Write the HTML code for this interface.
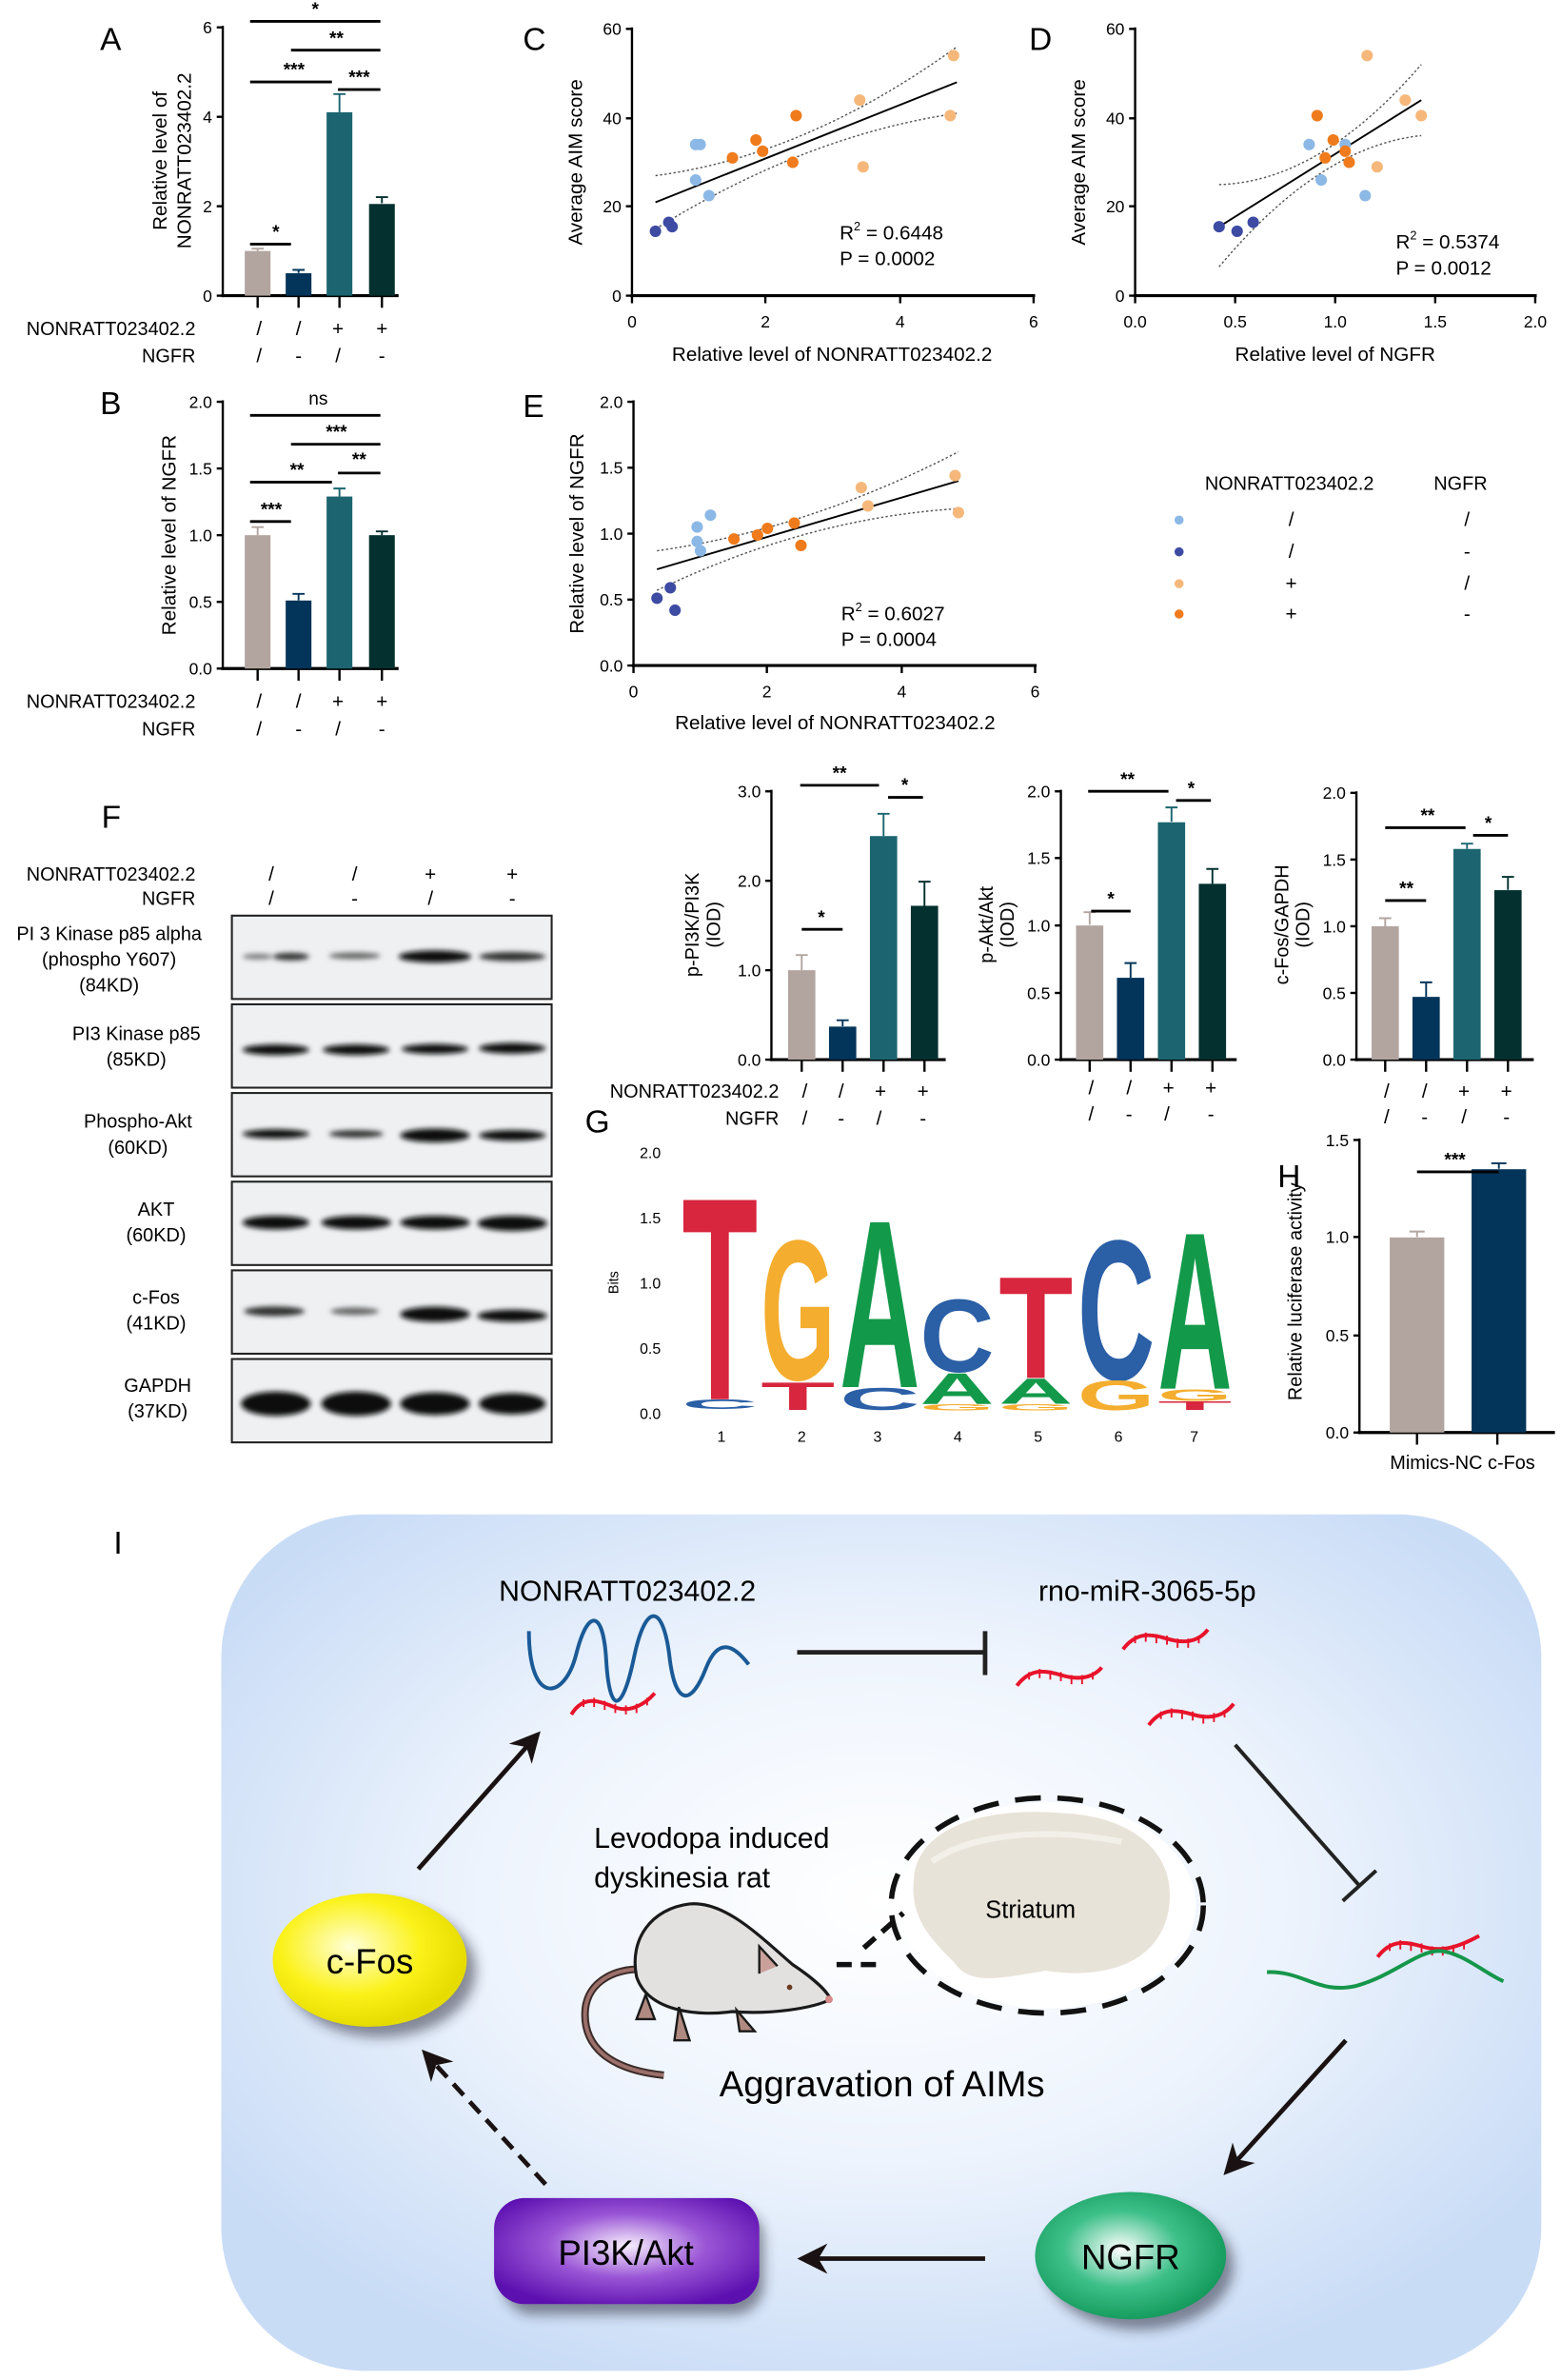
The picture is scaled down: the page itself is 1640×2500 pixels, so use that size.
<!DOCTYPE html>
<html><head><meta charset="utf-8"><style>
html,body{margin:0;padding:0;background:#fff;}
svg{display:block;}
</style></head><body>
<svg width="1640" height="2500" viewBox="0 0 1030 1570" xmlns="http://www.w3.org/2000/svg" font-family="Liberation Sans, Arial, sans-serif">
<defs>
<filter id="bl" x="-20%" y="-100%" width="140%" height="300%"><feGaussianBlur stdDeviation="1.6"/></filter>
<radialGradient id="bgI" cx="0.5" cy="0.45" r="0.6"><stop offset="0" stop-color="#ffffff"/><stop offset="0.5" stop-color="#eef4fd"/><stop offset="1" stop-color="#c9dcf6"/></radialGradient>
<radialGradient id="gY" cx="0.4" cy="0.4" r="0.6"><stop offset="0" stop-color="#ffffd8"/><stop offset="0.6" stop-color="#fbf21a"/><stop offset="1" stop-color="#e6dc00"/></radialGradient>
<radialGradient id="gG" cx="0.45" cy="0.45" r="0.6"><stop offset="0" stop-color="#ffffff"/><stop offset="0.5" stop-color="#3fc08a"/><stop offset="1" stop-color="#0f9656"/></radialGradient>
<radialGradient id="gP" cx="0.5" cy="0.45" r="0.6"><stop offset="0" stop-color="#f6eefc"/><stop offset="0.5" stop-color="#9a55d6"/><stop offset="1" stop-color="#5d10b0"/></radialGradient>
<filter id="sh" x="-30%" y="-30%" width="170%" height="170%"><feGaussianBlur stdDeviation="4"/></filter>
<marker id="ahb" viewBox="0 0 10 10" markerWidth="20" markerHeight="20" refX="8" refY="5" orient="auto" markerUnits="userSpaceOnUse"><path d="M0,0 L10,5 L0,10 L3,5 Z" fill="#1a1212"/></marker>
</defs>
<rect width="1030" height="1570" fill="#fff"/>

<!-- ================= Panel A ================= -->
<g>
<text x="66" y="33" font-size="21">A</text>
<g stroke="#000" stroke-width="1.5" fill="none">
<line x1="147" y1="17" x2="147" y2="196"/>
<line x1="146" y1="195" x2="263" y2="195" stroke-width="2"/>
<line x1="143" y1="18" x2="147" y2="18"/><line x1="143" y1="77" x2="147" y2="77"/><line x1="143" y1="136" x2="147" y2="136"/><line x1="143" y1="195" x2="147" y2="195"/>
<line x1="170" y1="195" x2="170" y2="203"/><line x1="197" y1="195" x2="197" y2="203"/><line x1="224" y1="195" x2="224" y2="203"/><line x1="252" y1="195" x2="252" y2="203"/>
</g>
<g font-size="11" text-anchor="end"><text x="140" y="22">6</text><text x="140" y="81">4</text><text x="140" y="140">2</text><text x="140" y="199">0</text></g>
<rect x="161.5" y="165.5" width="17" height="29.5" fill="#b2a59f"/>
<rect x="188.5" y="180.2" width="17" height="14.8" fill="#033459"/>
<rect x="215.5" y="74" width="17" height="121" fill="#1c6570"/>
<rect x="243.5" y="134.5" width="17" height="60.5" fill="#04302f"/>
<g stroke-width="1.2" fill="none">
<path d="M170 165.5V164M166 164H174" stroke="#b2a59f"/>
<path d="M197 180V178M193 178H201" stroke="#033459"/>
<path d="M224 74V62M220 62H228" stroke="#1c6570"/>
<path d="M252 134V130M248 130H256" stroke="#04302f"/>
</g>
<g stroke="#000" stroke-width="1.8">
<line x1="165" y1="14" x2="251" y2="14"/><line x1="192" y1="33" x2="251" y2="33"/>
<line x1="165" y1="54" x2="219" y2="54"/><line x1="223" y1="59" x2="251" y2="59"/>
<line x1="165" y1="161" x2="192" y2="161"/>
</g>
<g font-size="12" font-weight="bold" text-anchor="middle">
<text x="208" y="10">*</text><text x="222" y="29">**</text><text x="194" y="50">***</text><text x="237" y="55">***</text><text x="182" y="157">*</text>
</g>
<text transform="translate(110,106) rotate(-90)" font-size="13" text-anchor="middle">Relative level of</text>
<text transform="translate(126,106) rotate(-90)" font-size="13" text-anchor="middle">NONRATT023402.2</text>
<g font-size="12.5"><text x="129" y="221" text-anchor="end">NONRATT023402.2</text><text x="129" y="239" text-anchor="end">NGFR</text></g>
<g font-size="13" text-anchor="middle"><text x="171" y="221">/</text><text x="197" y="221">/</text><text x="223" y="221">+</text><text x="252" y="221">+</text>
<text x="171" y="239">/</text><text x="197" y="239">-</text><text x="223" y="239">/</text><text x="252" y="239">-</text></g>
</g>

<!-- ================= Panel B ================= -->
<g>
<text x="66" y="273" font-size="21">B</text>
<g stroke="#000" stroke-width="1.5" fill="none">
<line x1="147" y1="264" x2="147" y2="442"/>
<line x1="146" y1="441" x2="263" y2="441" stroke-width="2"/>
<line x1="143" y1="265" x2="147" y2="265"/><line x1="143" y1="309" x2="147" y2="309"/><line x1="143" y1="353" x2="147" y2="353"/><line x1="143" y1="397" x2="147" y2="397"/><line x1="143" y1="441" x2="147" y2="441"/>
<line x1="170" y1="441" x2="170" y2="449"/><line x1="197" y1="441" x2="197" y2="449"/><line x1="224" y1="441" x2="224" y2="449"/><line x1="252" y1="441" x2="252" y2="449"/>
</g>
<g font-size="11" text-anchor="end"><text x="140" y="269">2.0</text><text x="140" y="313">1.5</text><text x="140" y="357">1.0</text><text x="140" y="401">0.5</text><text x="140" y="445">0.0</text></g>
<rect x="161.5" y="353" width="17" height="88" fill="#b2a59f"/>
<rect x="188.5" y="396.1" width="17" height="44.9" fill="#033459"/>
<rect x="215.5" y="327.5" width="17" height="113.5" fill="#1c6570"/>
<rect x="243.5" y="353" width="17" height="88" fill="#04302f"/>
<g stroke-width="1.2" fill="none">
<path d="M170 353V347.7M166 347.7H174" stroke="#b2a59f"/>
<path d="M197 396V391.7M193 391.7H201" stroke="#033459"/>
<path d="M224 327.5V322.2M220 322.2H228" stroke="#1c6570"/>
<path d="M252 353V350.5M248 350.5H256" stroke="#04302f"/>
</g>
<g stroke="#000" stroke-width="1.8">
<line x1="165" y1="274" x2="251" y2="274"/><line x1="192" y1="293" x2="251" y2="293"/>
<line x1="165" y1="318" x2="219" y2="318"/><line x1="223" y1="312" x2="251" y2="312"/>
<line x1="165" y1="344" x2="192" y2="344"/>
</g>
<text x="210" y="267" font-size="12" text-anchor="middle">ns</text>
<g font-size="12" font-weight="bold" text-anchor="middle">
<text x="222" y="289">***</text><text x="196" y="314">**</text><text x="237" y="307">**</text><text x="179" y="340">***</text>
</g>
<text transform="translate(116,353) rotate(-90)" font-size="13" text-anchor="middle">Relative level of NGFR</text>
<g font-size="12.5"><text x="129" y="467" text-anchor="end">NONRATT023402.2</text><text x="129" y="485" text-anchor="end">NGFR</text></g>
<g font-size="13" text-anchor="middle"><text x="171" y="467">/</text><text x="197" y="467">/</text><text x="223" y="467">+</text><text x="252" y="467">+</text>
<text x="171" y="485">/</text><text x="197" y="485">-</text><text x="223" y="485">/</text><text x="252" y="485">-</text></g>
</g>

<!-- ================= Panel C ================= -->
<g>
<text x="345" y="33" font-size="21">C</text>
<g stroke="#000" stroke-width="1.5" fill="none">
<line x1="417" y1="18" x2="417" y2="196"/>
<line x1="416" y1="195" x2="683" y2="195" stroke-width="2"/>
<line x1="413" y1="19" x2="417" y2="19"/><line x1="413" y1="78" x2="417" y2="78"/><line x1="413" y1="136" x2="417" y2="136"/><line x1="413" y1="195" x2="417" y2="195"/>
<line x1="417" y1="195" x2="417" y2="200"/><line x1="505" y1="195" x2="505" y2="200"/><line x1="594" y1="195" x2="594" y2="200"/><line x1="682" y1="195" x2="682" y2="200"/>
</g>
<g font-size="11" text-anchor="end"><text x="410" y="23">60</text><text x="410" y="82">40</text><text x="410" y="140">20</text><text x="410" y="199">0</text></g>
<g font-size="11" text-anchor="middle"><text x="417" y="216">0</text><text x="505" y="216">2</text><text x="594" y="216">4</text><text x="682" y="216">6</text></g>
<text transform="translate(384,107) rotate(-90)" font-size="13" text-anchor="middle">Average AIM score</text>
<text x="549" y="238" font-size="13" text-anchor="middle">Relative level of NONRATT023402.2</text>
<line x1="432.5" y1="133.4" x2="631.4" y2="54.2" stroke="#000" stroke-width="1.2"/>
<path d="M432.5 115.8 Q532 102.7 631.4 30.8" stroke="#555" stroke-width="0.9" stroke-dasharray="1.5,1.5" fill="none"/>
<path d="M432.5 151 Q532 89.2 631.4 74.7" stroke="#555" stroke-width="0.9" stroke-dasharray="1.5,1.5" fill="none"/>
<g fill="#8cb8e6"><circle cx="459" cy="95.3" r="3.8"/><circle cx="462" cy="95.3" r="3.8"/><circle cx="459" cy="118.7" r="3.8"/><circle cx="467.8" cy="129" r="3.8"/></g>
<g fill="#3d4ba3"><circle cx="432.5" cy="152.5" r="3.8"/><circle cx="441.3" cy="146.6" r="3.8"/><circle cx="443.5" cy="149.5" r="3.8"/></g>
<g fill="#f5b87a"><circle cx="567.3" cy="66" r="3.8"/><circle cx="569.5" cy="110" r="3.8"/><circle cx="629.2" cy="36.6" r="3.8"/><circle cx="627" cy="76.2" r="3.8"/></g>
<g fill="#ef7b1c"><circle cx="483.3" cy="104.1" r="3.8"/><circle cx="498.8" cy="92.3" r="3.8"/><circle cx="503.2" cy="99.7" r="3.8"/><circle cx="525.3" cy="76.2" r="3.8"/><circle cx="523.1" cy="107" r="3.8"/></g>
<text x="554" y="158" font-size="13">R<tspan font-size="8" dy="-6">2</tspan><tspan dy="6"> = 0.6448</tspan></text>
<text x="554" y="175" font-size="13">P  = 0.0002</text>
</g>

<!-- ================= Panel D ================= -->
<g>
<text x="679" y="33" font-size="21">D</text>
<g stroke="#000" stroke-width="1.5" fill="none">
<line x1="749" y1="18" x2="749" y2="196"/>
<line x1="748" y1="195" x2="1014" y2="195" stroke-width="2"/>
<line x1="745" y1="19" x2="749" y2="19"/><line x1="745" y1="78" x2="749" y2="78"/><line x1="745" y1="136" x2="749" y2="136"/><line x1="745" y1="195" x2="749" y2="195"/>
<line x1="749" y1="195" x2="749" y2="200"/><line x1="815" y1="195" x2="815" y2="200"/><line x1="881" y1="195" x2="881" y2="200"/><line x1="947" y1="195" x2="947" y2="200"/><line x1="1013" y1="195" x2="1013" y2="200"/>
</g>
<g font-size="11" text-anchor="end"><text x="742" y="23">60</text><text x="742" y="82">40</text><text x="742" y="140">20</text><text x="742" y="199">0</text></g>
<g font-size="11" text-anchor="middle"><text x="749" y="216">0.0</text><text x="815" y="216">0.5</text><text x="881" y="216">1.0</text><text x="947" y="216">1.5</text><text x="1013" y="216">2.0</text></g>
<text transform="translate(716,107) rotate(-90)" font-size="13" text-anchor="middle">Average AIM score</text>
<text x="881" y="238" font-size="13" text-anchor="middle">Relative level of NGFR</text>
<line x1="804.4" y1="149.5" x2="937.8" y2="66" stroke="#000" stroke-width="1.2"/>
<path d="M804.4 121.7 Q871 119.9 937.8 42.5" stroke="#555" stroke-width="0.9" stroke-dasharray="1.5,1.5" fill="none"/>
<path d="M804.4 176 Q871 96.3 937.8 89.4" stroke="#555" stroke-width="0.9" stroke-dasharray="1.5,1.5" fill="none"/>
<g fill="#8cb8e6"><circle cx="863.8" cy="95.3" r="3.8"/><circle cx="887.6" cy="95.3" r="3.8"/><circle cx="871.8" cy="118.7" r="3.8"/><circle cx="900.8" cy="129" r="3.8"/></g>
<g fill="#3d4ba3"><circle cx="804.4" cy="149.5" r="3.8"/><circle cx="816.3" cy="152.5" r="3.8"/><circle cx="826.9" cy="146.6" r="3.8"/></g>
<g fill="#f5b87a"><circle cx="902.1" cy="36.6" r="3.8"/><circle cx="927.2" cy="66" r="3.8"/><circle cx="937.8" cy="76.2" r="3.8"/><circle cx="908.7" cy="110" r="3.8"/></g>
<g fill="#ef7b1c"><circle cx="869.1" cy="76.2" r="3.8"/><circle cx="879.7" cy="92.3" r="3.8"/><circle cx="874.4" cy="104.1" r="3.8"/><circle cx="887.6" cy="99.7" r="3.8"/><circle cx="890.2" cy="107" r="3.8"/></g>
<text x="921" y="164" font-size="13">R<tspan font-size="8" dy="-6">2</tspan><tspan dy="6"> = 0.5374</tspan></text>
<text x="921" y="181" font-size="13">P  = 0.0012</text>
</g>

<!-- ================= Panel E ================= -->
<g>
<text x="345" y="275" font-size="21">E</text>
<g stroke="#000" stroke-width="1.5" fill="none">
<line x1="418" y1="264" x2="418" y2="440"/>
<line x1="417" y1="439" x2="684" y2="439" stroke-width="2"/>
<line x1="414" y1="265" x2="418" y2="265"/><line x1="414" y1="308.5" x2="418" y2="308.5"/><line x1="414" y1="352" x2="418" y2="352"/><line x1="414" y1="395.5" x2="418" y2="395.5"/><line x1="414" y1="439" x2="418" y2="439"/>
<line x1="418" y1="439" x2="418" y2="444"/><line x1="506" y1="439" x2="506" y2="444"/><line x1="595" y1="439" x2="595" y2="444"/><line x1="683" y1="439" x2="683" y2="444"/>
</g>
<g font-size="11" text-anchor="end"><text x="411" y="269">2.0</text><text x="411" y="312.5">1.5</text><text x="411" y="356">1.0</text><text x="411" y="399.5">0.5</text><text x="411" y="443">0.0</text></g>
<g font-size="11" text-anchor="middle"><text x="418" y="460">0</text><text x="506" y="460">2</text><text x="595" y="460">4</text><text x="683" y="460">6</text></g>
<text transform="translate(385,352) rotate(-90)" font-size="13" text-anchor="middle">Relative level of NGFR</text>
<text x="551" y="481" font-size="13" text-anchor="middle">Relative level of NONRATT023402.2</text>
<line x1="433.5" y1="375.5" x2="632.4" y2="317.2" stroke="#000" stroke-width="1.2"/>
<path d="M433.5 363.3 Q533 349.3 632.4 298" stroke="#555" stroke-width="0.9" stroke-dasharray="1.5,1.5" fill="none"/>
<path d="M433.5 389.4 Q533 341.5 632.4 335.5" stroke="#555" stroke-width="0.9" stroke-dasharray="1.5,1.5" fill="none"/>
<g fill="#8cb8e6"><circle cx="460" cy="347.6" r="3.8"/><circle cx="468.8" cy="339.8" r="3.8"/><circle cx="460" cy="357.2" r="3.8"/><circle cx="462.2" cy="363.3" r="3.8"/></g>
<g fill="#3d4ba3"><circle cx="433.5" cy="394.6" r="3.8"/><circle cx="442.3" cy="387.7" r="3.8"/><circle cx="445.4" cy="402.5" r="3.8"/></g>
<g fill="#f5b87a"><circle cx="568.3" cy="321.6" r="3.8"/><circle cx="572.7" cy="333.7" r="3.8"/><circle cx="630.2" cy="313.7" r="3.8"/><circle cx="632.4" cy="338.1" r="3.8"/></g>
<g fill="#ef7b1c"><circle cx="484.3" cy="355.5" r="3.8"/><circle cx="499.8" cy="352.9" r="3.8"/><circle cx="506.4" cy="348.5" r="3.8"/><circle cx="524.1" cy="345" r="3.8"/><circle cx="528.5" cy="359.8" r="3.8"/></g>
<text x="555" y="409" font-size="13">R<tspan font-size="8" dy="-6">2</tspan><tspan dy="6"> = 0.6027</tspan></text>
<text x="555" y="426" font-size="13">P  = 0.0004</text>
</g>

<!-- Legend -->
<g font-size="12.5">
<text x="795" y="323">NONRATT023402.2</text><text x="946" y="323">NGFR</text>
<circle cx="778" cy="343" r="3" fill="#8cb8e6"/><circle cx="778" cy="364" r="3" fill="#3d4ba3"/><circle cx="778" cy="385" r="3" fill="#f5b87a"/><circle cx="778" cy="405" r="3" fill="#ef7b1c"/>
<g text-anchor="middle" font-size="13"><text x="852" y="347">/</text><text x="852" y="368">/</text><text x="852" y="389">+</text><text x="852" y="409">+</text>
<text x="968" y="347">/</text><text x="968" y="368">-</text><text x="968" y="389">/</text><text x="968" y="409">-</text></g>
</g>

<!-- ================= Panel F (blots) ================= -->
<g>
<text x="67" y="546" font-size="21">F</text>
<g font-size="12.5"><text x="129" y="581" text-anchor="end">NONRATT023402.2</text><text x="129" y="597" text-anchor="end">NGFR</text></g>
<g font-size="13" text-anchor="middle"><text x="179" y="581">/</text><text x="234" y="581">/</text><text x="284" y="581">+</text><text x="338" y="581">+</text>
<text x="179" y="597">/</text><text x="234" y="597">-</text><text x="284" y="597">/</text><text x="338" y="597">-</text></g>
<g font-size="12.5" text-anchor="middle">
<text x="72" y="620">PI 3 Kinase p85 alpha</text><text x="72" y="637">(phospho Y607)</text><text x="72" y="654">(84KD)</text>
<text x="90" y="686">PI3 Kinase p85</text><text x="90" y="703">(85KD)</text>
<text x="91" y="744">Phospho-Akt</text><text x="91" y="761">(60KD)</text>
<text x="103" y="802">AKT</text><text x="103" y="819">(60KD)</text>
<text x="103" y="860">c-Fos</text><text x="103" y="877">(41KD)</text>
<text x="104" y="918">GAPDH</text><text x="104" y="935">(37KD)</text>
</g>
<g fill="#eef0f1" stroke="#222" stroke-width="1.3">
<rect x="153" y="604" width="211" height="55"/><rect x="153" y="662.5" width="211" height="55"/><rect x="153" y="721" width="211" height="55"/><rect x="153" y="779.5" width="211" height="55"/><rect x="153" y="838" width="211" height="55"/><rect x="153" y="896.5" width="211" height="55"/>
</g>
<g filter="url(#bl)" fill="#111">
<ellipse cx="170" cy="631" rx="10" ry="1.8" fill="#777"/><ellipse cx="192" cy="631" rx="12" ry="2.5" fill="#333"/><ellipse cx="234" cy="630.5" rx="17" ry="2.2" fill="#666"/><ellipse cx="287" cy="631" rx="24" ry="4" fill="#111"/><ellipse cx="338" cy="631" rx="22" ry="3" fill="#333"/>
<ellipse cx="182" cy="692.5" rx="22" ry="3.5"/><ellipse cx="235" cy="692.5" rx="22" ry="3.5"/><ellipse cx="287" cy="692" rx="22" ry="3.3"/><ellipse cx="338" cy="691.5" rx="22" ry="3.5"/>
<ellipse cx="182" cy="748" rx="22" ry="3"/><ellipse cx="235" cy="748" rx="18" ry="2.5" fill="#333"/><ellipse cx="287" cy="749" rx="23" ry="4.5"/><ellipse cx="338" cy="749" rx="22" ry="3.5"/>
<ellipse cx="182" cy="806.5" rx="22" ry="4.5"/><ellipse cx="235" cy="806.5" rx="23" ry="4.5"/><ellipse cx="287" cy="806.5" rx="23" ry="4.5"/><ellipse cx="338" cy="807" rx="23" ry="5"/>
<ellipse cx="181" cy="865" rx="20" ry="3.2" fill="#333"/><ellipse cx="234" cy="865" rx="16" ry="2.5" fill="#666"/><ellipse cx="287" cy="867" rx="23" ry="5"/><ellipse cx="338" cy="868" rx="23" ry="4"/>
<ellipse cx="182" cy="926" rx="23" ry="8"/><ellipse cx="235" cy="926" rx="23" ry="8"/><ellipse cx="287" cy="926" rx="23" ry="7.5"/><ellipse cx="338" cy="926" rx="22" ry="7"/>
</g>
</g>

<!-- p-PI3K/PI3K -->
<g>
<g stroke="#000" stroke-width="1.5" fill="none">
<line x1="509" y1="521" x2="509" y2="700"/>
<line x1="508" y1="699" x2="624" y2="699" stroke-width="2"/>
<line x1="505" y1="522" x2="509" y2="522"/><line x1="505" y1="581" x2="509" y2="581"/><line x1="505" y1="640" x2="509" y2="640"/><line x1="505" y1="699" x2="509" y2="699"/>
<line x1="529" y1="699" x2="529" y2="707"/><line x1="556" y1="699" x2="556" y2="707"/><line x1="583" y1="699" x2="583" y2="707"/><line x1="610" y1="699" x2="610" y2="707"/>
</g>
<g font-size="11" text-anchor="end"><text x="502" y="526">3.0</text><text x="502" y="585">2.0</text><text x="502" y="644">1.0</text><text x="502" y="703">0.0</text></g>
<rect x="520" y="640" width="18" height="59" fill="#b2a59f"/><rect x="547" y="677.2" width="18" height="21.8" fill="#033459"/><rect x="574" y="551.5" width="18" height="147.5" fill="#1c6570"/><rect x="601" y="597.5" width="18" height="101.5" fill="#04302f"/>
<g stroke-width="1.2" fill="none">
<path d="M529 640V630M525 630H533" stroke="#b2a59f"/><path d="M556 677V673M552 673H560" stroke="#033459"/><path d="M583 551.5V536.8M579 536.8H587" stroke="#1c6570"/><path d="M610 597.5V581.6M606 581.6H614" stroke="#04302f"/>
</g>
<g stroke="#000" stroke-width="1.8"><line x1="528" y1="518" x2="580" y2="518"/><line x1="586" y1="526" x2="609" y2="526"/><line x1="529" y1="613" x2="556" y2="613"/></g>
<g font-size="12" font-weight="bold" text-anchor="middle"><text x="554" y="514">**</text><text x="597" y="522">*</text><text x="542" y="609">*</text></g>
<text transform="translate(461,610) rotate(-90)" font-size="12.5" text-anchor="middle">p-PI3K/PI3K</text>
<text transform="translate(475,610) rotate(-90)" font-size="12.5" text-anchor="middle">(IOD)</text>
<g font-size="12.5"><text x="514" y="724" text-anchor="end">NONRATT023402.2</text><text x="514" y="742" text-anchor="end">NGFR</text></g>
<g font-size="13" text-anchor="middle"><text x="531" y="724">/</text><text x="555" y="724">/</text><text x="581" y="724">+</text><text x="609" y="724">+</text>
<text x="531" y="742">/</text><text x="555" y="742">-</text><text x="580" y="742">/</text><text x="609" y="742">-</text></g>
</g>

<!-- p-Akt/Akt -->
<g>
<g stroke="#000" stroke-width="1.5" fill="none">
<line x1="700" y1="521" x2="700" y2="700"/>
<line x1="699" y1="699" x2="816" y2="699" stroke-width="2"/>
<line x1="696" y1="522" x2="700" y2="522"/><line x1="696" y1="566" x2="700" y2="566"/><line x1="696" y1="610.5" x2="700" y2="610.5"/><line x1="696" y1="655" x2="700" y2="655"/><line x1="696" y1="699" x2="700" y2="699"/>
<line x1="719" y1="699" x2="719" y2="707"/><line x1="746" y1="699" x2="746" y2="707"/><line x1="773" y1="699" x2="773" y2="707"/><line x1="800" y1="699" x2="800" y2="707"/>
</g>
<g font-size="11" text-anchor="end"><text x="693" y="526">2.0</text><text x="693" y="570">1.5</text><text x="693" y="614.5">1.0</text><text x="693" y="659">0.5</text><text x="693" y="703">0.0</text></g>
<rect x="710" y="610.5" width="18" height="88.5" fill="#b2a59f"/><rect x="737" y="645" width="18" height="54" fill="#033459"/><rect x="764" y="542.4" width="18" height="156.6" fill="#1c6570"/><rect x="791" y="583" width="18" height="116" fill="#04302f"/>
<g stroke-width="1.2" fill="none">
<path d="M719 610V601.7M715 601.7H723" stroke="#b2a59f"/><path d="M746 645V635.3M742 635.3H750" stroke="#033459"/><path d="M773 542V532.6M769 532.6H777" stroke="#1c6570"/><path d="M800 583V573.2M796 573.2H804" stroke="#04302f"/>
</g>
<g stroke="#000" stroke-width="1.8"><line x1="718" y1="522" x2="771" y2="522"/><line x1="776" y1="528" x2="799" y2="528"/><line x1="720" y1="601" x2="746" y2="601"/></g>
<g font-size="12" font-weight="bold" text-anchor="middle"><text x="744" y="518">**</text><text x="786" y="524">*</text><text x="733" y="597">*</text></g>
<text transform="translate(655,610) rotate(-90)" font-size="12.5" text-anchor="middle">p-Akt/Akt</text>
<text transform="translate(669,610) rotate(-90)" font-size="12.5" text-anchor="middle">(IOD)</text>
<g font-size="13" text-anchor="middle"><text x="720" y="722">/</text><text x="745" y="722">/</text><text x="771" y="722">+</text><text x="799" y="722">+</text>
<text x="720" y="739">/</text><text x="745" y="739">-</text><text x="770" y="739">/</text><text x="799" y="739">-</text></g>
</g>

<!-- c-Fos/GAPDH -->
<g>
<g stroke="#000" stroke-width="1.5" fill="none">
<line x1="895" y1="522" x2="895" y2="700"/>
<line x1="894" y1="699" x2="1012" y2="699" stroke-width="2"/>
<line x1="891" y1="523" x2="895" y2="523"/><line x1="891" y1="567" x2="895" y2="567"/><line x1="891" y1="611" x2="895" y2="611"/><line x1="891" y1="655" x2="895" y2="655"/><line x1="891" y1="699" x2="895" y2="699"/>
<line x1="914" y1="699" x2="914" y2="707"/><line x1="941" y1="699" x2="941" y2="707"/><line x1="968" y1="699" x2="968" y2="707"/><line x1="995" y1="699" x2="995" y2="707"/>
</g>
<g font-size="11" text-anchor="end"><text x="888" y="527">2.0</text><text x="888" y="571">1.5</text><text x="888" y="615">1.0</text><text x="888" y="659">0.5</text><text x="888" y="703">0.0</text></g>
<rect x="905" y="611" width="18" height="88" fill="#b2a59f"/><rect x="932" y="657.6" width="18" height="41.4" fill="#033459"/><rect x="959" y="560" width="18" height="139" fill="#1c6570"/><rect x="986" y="587.2" width="18" height="111.8" fill="#04302f"/>
<g stroke-width="1.2" fill="none">
<path d="M914 611V605.7M910 605.7H918" stroke="#b2a59f"/><path d="M941 657.6V648M937 648H945" stroke="#033459"/><path d="M968 560V556.5M964 556.5H972" stroke="#1c6570"/><path d="M995 587V578.4M991 578.4H999" stroke="#04302f"/>
</g>
<g stroke="#000" stroke-width="1.8"><line x1="914" y1="546" x2="967" y2="546"/><line x1="972" y1="551" x2="995" y2="551"/><line x1="914" y1="594" x2="941" y2="594"/></g>
<g font-size="12" font-weight="bold" text-anchor="middle"><text x="942" y="542">**</text><text x="982" y="547">*</text><text x="928" y="590">**</text></g>
<text transform="translate(850,610) rotate(-90)" font-size="12.5" text-anchor="middle">c-Fos/GAPDH</text>
<text transform="translate(864,610) rotate(-90)" font-size="12.5" text-anchor="middle">(IOD)</text>
<g font-size="13" text-anchor="middle"><text x="915" y="724">/</text><text x="940" y="724">/</text><text x="966" y="724">+</text><text x="994" y="724">+</text>
<text x="915" y="741">/</text><text x="940" y="741">-</text><text x="966" y="741">/</text><text x="994" y="741">-</text></g>
</g>

<!-- ================= Panel G ================= -->
<g>
<text x="386" y="747" font-size="21">G</text>
<g font-size="10" text-anchor="end"><text x="436" y="764">2.0</text><text x="436" y="807">1.5</text><text x="436" y="850">1.0</text><text x="436" y="893">0.5</text><text x="436" y="936">0.0</text></g>
<text transform="translate(408,846) rotate(-90)" font-size="9" text-anchor="middle">Bits</text>
<g font-weight="bold">
<text x="450" y="923" font-size="191" textLength="50" lengthAdjust="spacingAndGlyphs" fill="#d7263d">T</text>
<text x="450" y="929.5" font-size="9" textLength="50" lengthAdjust="spacingAndGlyphs" fill="#2b5fa6">C</text>
<text x="502" y="910" font-size="132" textLength="49" lengthAdjust="spacingAndGlyphs" fill="#f4ad2e">G</text>
<text x="502" y="930" font-size="26" textLength="49" lengthAdjust="spacingAndGlyphs" fill="#d7263d">T</text>
<text x="554" y="915" font-size="158" textLength="53" lengthAdjust="spacingAndGlyphs" fill="#13994a">A</text>
<text x="554" y="930" font-size="21" textLength="53" lengthAdjust="spacingAndGlyphs" fill="#2b5fa6">C</text>
<text x="607" y="905" font-size="69" textLength="49" lengthAdjust="spacingAndGlyphs" fill="#2b5fa6">C</text>
<text x="607" y="926" font-size="29" textLength="49" lengthAdjust="spacingAndGlyphs" fill="#13994a">A</text>
<text x="607" y="930.5" font-size="6" textLength="49" lengthAdjust="spacingAndGlyphs" fill="#f4ad2e">G</text>
<text x="659" y="909" font-size="96" textLength="49" lengthAdjust="spacingAndGlyphs" fill="#d7263d">T</text>
<text x="659" y="926" font-size="24" textLength="49" lengthAdjust="spacingAndGlyphs" fill="#13994a">A</text>
<text x="659" y="930.5" font-size="6" textLength="49" lengthAdjust="spacingAndGlyphs" fill="#f4ad2e">G</text>
<text x="711" y="910" font-size="132" textLength="51" lengthAdjust="spacingAndGlyphs" fill="#2b5fa6">C</text>
<text x="711" y="930" font-size="28" textLength="51" lengthAdjust="spacingAndGlyphs" fill="#f4ad2e">G</text>
<text x="764" y="916" font-size="148" textLength="49" lengthAdjust="spacingAndGlyphs" fill="#13994a">A</text>
<text x="764" y="924" font-size="11" textLength="49" lengthAdjust="spacingAndGlyphs" fill="#f4ad2e">G</text>
<text x="764" y="930" font-size="8" textLength="49" lengthAdjust="spacingAndGlyphs" fill="#d7263d">T</text>
</g>
<g font-size="10" text-anchor="middle"><text x="476" y="951">1</text><text x="529" y="951">2</text><text x="579" y="951">3</text><text x="632" y="951">4</text><text x="685" y="951">5</text><text x="738" y="951">6</text><text x="788" y="951">7</text></g>
</g>

<!-- ================= Panel H ================= -->
<g>
<text x="843" y="783" font-size="21">H</text>
<g stroke="#000" stroke-width="1.5" fill="none">
<line x1="897" y1="751" x2="897" y2="946"/>
<line x1="896" y1="945" x2="1026" y2="945" stroke-width="2"/>
<line x1="893" y1="752" x2="897" y2="752"/><line x1="893" y1="816" x2="897" y2="816"/><line x1="893" y1="881" x2="897" y2="881"/><line x1="893" y1="945" x2="897" y2="945"/>
<line x1="935" y1="945" x2="935" y2="953"/><line x1="988" y1="945" x2="988" y2="953"/>
</g>
<g font-size="11" text-anchor="end"><text x="890" y="756">1.5</text><text x="890" y="820">1.0</text><text x="890" y="885">0.5</text><text x="890" y="949">0.0</text></g>
<rect x="917" y="816.3" width="36" height="128.7" fill="#b2a59f"/><rect x="971" y="771.3" width="36" height="173.7" fill="#033459"/>
<g stroke-width="1.2" fill="none"><path d="M935 816V812.4M930 812.4H940" stroke="#b2a59f"/><path d="M989 771V767.4M984 767.4H994" stroke="#033459"/></g>
<line x1="935" y1="773" x2="989" y2="773" stroke="#000" stroke-width="1.8"/>
<text x="960" y="769" font-size="12" font-weight="bold" text-anchor="middle">***</text>
<text transform="translate(859,852) rotate(-90)" font-size="12.5" text-anchor="middle">Relative luciferase activity</text>
<text x="965" y="969" font-size="12.5" text-anchor="middle">Mimics-NC c-Fos</text>
</g>

<!-- ================= Panel I ================= -->
<g>
<text x="75" y="1025" font-size="21">I</text>
<rect x="146" y="999" width="871" height="565" rx="95" ry="95" fill="url(#bgI)"/>
<text x="414" y="1056" font-size="19" text-anchor="middle">NONRATT023402.2</text>
<text x="757" y="1056" font-size="19" text-anchor="middle">rno-miR-3065-5p</text>
<path d="M349 1076 C349 1125 372 1122 380 1092 C388 1060 398 1062 400 1095 C402 1130 410 1132 418 1095 C426 1055 438 1058 442 1095 C446 1125 456 1126 466 1100 C474 1080 484 1085 494 1098" stroke="#1a5a96" stroke-width="2.5" fill="none"/>
<g stroke="#e8132a" stroke-width="2.5" fill="none">
<path d="M377 1131 C385 1118 395 1122 405 1126 C415 1130 425 1125 432 1117"/>
<path d="M671 1112 C680 1100 690 1102 700 1105 C710 1108 720 1108 727 1100"/>
<path d="M741 1088 C750 1076 760 1078 770 1081 C780 1084 790 1084 797 1075"/>
<path d="M758 1138 C767 1126 777 1128 787 1131 C797 1134 807 1133 814 1124"/>
<path d="M909 1291 C918 1279 928 1281 938 1284 C948 1287 958 1287 976 1277"/>
</g>
<g stroke="#e8132a" stroke-width="1.2">
<path d="M385 1121v5M392 1120v6M399 1122v6M406 1124v6M413 1125v6M420 1124v6M427 1120v5"/>
<path d="M679 1103v5M686 1101v6M693 1102v6M700 1103v6M707 1105v6M714 1105v6M721 1103v5"/>
<path d="M749 1079v5M756 1077v6M763 1078v6M770 1079v6M777 1081v6M784 1081v6M791 1079v5"/>
<path d="M766 1129v5M773 1127v6M780 1128v6M787 1129v6M794 1131v6M801 1130v6M808 1128v5"/>
<path d="M917 1282v5M924 1280v6M931 1281v6M938 1282v6M945 1284v6M952 1284v6M959 1283v5M966 1281v5"/>
</g>
<path d="M836 1301 C860 1300 870 1316 895 1310 C920 1303 935 1287 950 1287 C965 1288 980 1302 992 1307" stroke="#16964a" stroke-width="2.5" fill="none"/>
<line x1="526" y1="1090" x2="650" y2="1090" stroke="#222" stroke-width="3"/>
<line x1="650" y1="1076" x2="650" y2="1105" stroke="#222" stroke-width="3"/>
<line x1="815" y1="1151" x2="897" y2="1244" stroke="#222" stroke-width="2.5"/>
<line x1="886" y1="1254" x2="908" y2="1234" stroke="#222" stroke-width="2.5"/>
<line x1="888" y1="1346" x2="810" y2="1432" stroke="#1a1212" stroke-width="3" marker-end="url(#ahb)"/>
<line x1="650" y1="1490" x2="530" y2="1490" stroke="#1a1212" stroke-width="3" marker-end="url(#ahb)"/>
<line x1="360" y1="1441" x2="281" y2="1355" stroke="#1a1212" stroke-width="3" stroke-dasharray="10,6" marker-end="url(#ahb)"/>
<line x1="276" y1="1233" x2="354" y2="1145" stroke="#1a1212" stroke-width="3" marker-end="url(#ahb)"/>
<ellipse cx="752" cy="1495" rx="62" ry="42" fill="#223" opacity="0.5" filter="url(#sh)"/>
<ellipse cx="746" cy="1488" rx="63" ry="42" fill="url(#gG)"/>
<text x="746" y="1497" font-size="23" text-anchor="middle">NGFR</text>
<rect x="332" y="1457" width="172" height="70" rx="20" fill="#223" opacity="0.5" filter="url(#sh)"/>
<rect x="326" y="1450" width="175" height="70" rx="20" fill="url(#gP)"/>
<text x="413" y="1494" font-size="23" text-anchor="middle">PI3K/Akt</text>
<ellipse cx="251" cy="1300" rx="63" ry="44" fill="#223" opacity="0.5" filter="url(#sh)"/>
<ellipse cx="244" cy="1293" rx="64" ry="44" fill="url(#gY)"/>
<text x="244" y="1302" font-size="23" text-anchor="middle">c-Fos</text>
<ellipse cx="691" cy="1257" rx="98" ry="68" fill="#ffffff"/>
<path d="M603 1240 C605 1205 650 1192 700 1196 C750 1198 780 1225 770 1265 C760 1300 720 1305 690 1300 C660 1305 640 1310 630 1295 C615 1280 600 1265 603 1240 Z" fill="#e8e3d8"/>
<path d="M615 1228 C640 1210 690 1205 740 1215" stroke="#f3f0ea" stroke-width="4" fill="none"/>
<ellipse cx="691" cy="1257" rx="103" ry="71" fill="none" stroke="#111" stroke-width="3.5" stroke-dasharray="17,11"/>
<text x="680" y="1265" font-size="16" text-anchor="middle">Striatum</text>
<line x1="552" y1="1296" x2="580" y2="1296" stroke="#111" stroke-width="3.5" stroke-dasharray="10,6"/>
<line x1="570" y1="1285" x2="596" y2="1262" stroke="#111" stroke-width="3.5" stroke-dasharray="10,6"/>
<!-- rat -->
<g transform="translate(8,14)">
<path d="M415 1285 C395 1285 378 1295 378 1315 C378 1340 400 1352 430 1355" stroke="#3a2a28" stroke-width="5" fill="none"/>
<path d="M415 1285 C395 1285 378 1295 378 1315 C378 1340 400 1352 430 1355" stroke="#9c706a" stroke-width="2.5" fill="none"/>
<path d="M412 1290 C407 1265 422 1245 447 1242 C470 1240 492 1262 515 1282 C530 1292 538 1300 540 1305 C528 1311 500 1315 475 1313 C455 1316 420 1314 412 1290 Z" fill="#e3e1e0" stroke="#1a1a1a" stroke-width="2"/>
<path d="M418 1302 l-6 16 l12 0 Z" stroke="#1a1a1a" stroke-width="1.5" fill="#b08a80"/>
<path d="M440 1310 l-3 22 l10 0 Z" stroke="#1a1a1a" stroke-width="1.5" fill="#b08a80"/>
<path d="M478 1312 l2 14 l10 0 Z" stroke="#1a1a1a" stroke-width="1.5" fill="#b08a80"/>
<path d="M493 1288 L493 1270 L505 1283" fill="#c9a09a" stroke="#1a1a1a" stroke-width="1.5"/>
<circle cx="513" cy="1297" r="1.8" fill="#6b3a1e"/>
<circle cx="539" cy="1305" r="2.5" fill="#d88a8a"/>
</g>
<text x="392" y="1219" font-size="19">Levodopa induced</text>
<text x="392" y="1245" font-size="19">dyskinesia rat</text>
<text x="582" y="1383" font-size="24" text-anchor="middle">Aggravation of AIMs</text>
</g>
</svg>
</body></html>
